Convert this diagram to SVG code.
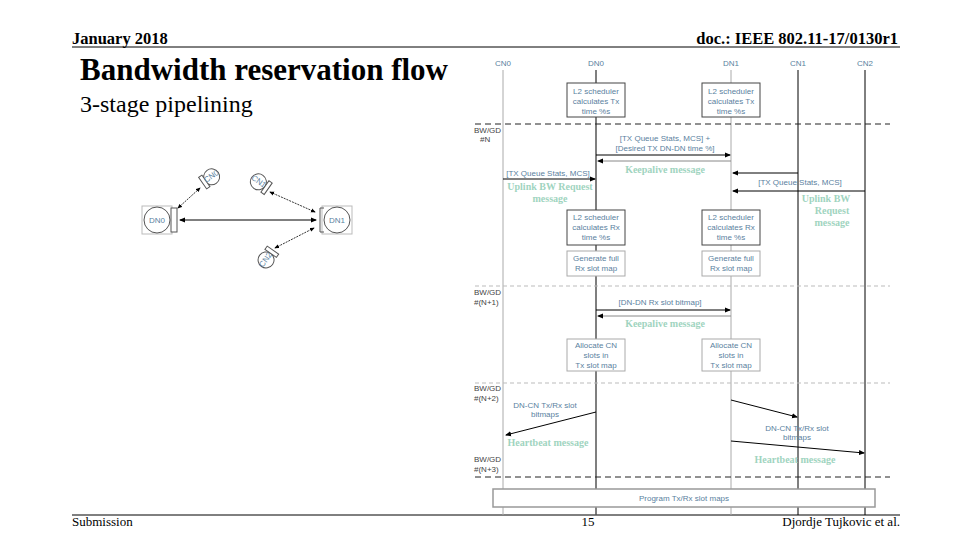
<svg xmlns="http://www.w3.org/2000/svg" width="960" height="540" viewBox="0 0 960 540">
<style>
.h{font-family:"Liberation Serif",serif;fill:#000}
.s{font-family:"Liberation Sans",sans-serif;font-size:8px;fill:#5a7fa0;text-anchor:middle}
.bw{font-family:"Liberation Sans",sans-serif;font-size:8px;fill:#444}
.g{font-family:"Liberation Serif",serif;font-size:10px;font-weight:bold;fill:#9fd4c0;text-anchor:middle}
.ll{stroke:#555;stroke-width:1.5}
.lt{stroke:#aaa;stroke-width:1}
.bx{fill:#fff;stroke:#444;stroke-width:1}
.bl{fill:#fff;stroke:#aaa;stroke-width:1}
.a{stroke:#000;stroke-width:1;fill:none;marker-end:url(#ah)}
.ag{stroke:#888;stroke-width:1;fill:none;marker-end:url(#ah)}
.d{stroke:#222;stroke-dasharray:6 4;stroke-width:1}
.dg{stroke:#bbb;stroke-dasharray:4 3;stroke-width:1}
.c{fill:#fff;stroke:#555}
</style>
<defs>
<marker id="ah" markerWidth="6" markerHeight="6" refX="5" refY="3" orient="auto"><path d="M0,0.5 L6,3 L0,5.5z" fill="#000"/></marker>
<marker id="as" markerWidth="6" markerHeight="6" refX="5" refY="3" orient="auto-start-reverse"><path d="M0,0.5 L6,3 L0,5.5z" fill="#000"/></marker>
</defs>
<rect width="960" height="540" fill="#fff"/>
<text class="h" x="72" y="44" font-size="16.5" font-weight="bold">January 2018</text>
<text class="h" x="898" y="44" font-size="16.5" font-weight="bold" text-anchor="end">doc.: IEEE 802.11-17/0130r1</text>
<line x1="72" y1="47" x2="900" y2="47" stroke="#000"/>
<text class="h" x="80" y="80" font-size="31" font-weight="bold">Bandwidth reservation flow</text>
<text class="h" x="80" y="112" font-size="24">3-stage pipelining</text>
<line x1="72" y1="515" x2="900" y2="515" stroke="#000"/>
<text class="h" x="72" y="526" font-size="13">Submission</text>
<text class="h" x="588" y="526" font-size="13" text-anchor="middle">15</text>
<text class="h" x="900" y="526" font-size="13" text-anchor="end">Djordje Tujkovic et al.</text>

<g id="network">
<g id="dn0"><rect x="142" y="206" width="30" height="28" fill="none" stroke="#bbb"/><circle class="c" cx="157" cy="220" r="13"/><rect x="171" y="208" width="6" height="24" class="c"/><text class="s" x="157" y="223" font-size="6">DN0</text></g>
<g id="dn1"><rect x="322" y="206" width="30" height="28" fill="none" stroke="#bbb"/><circle class="c" cx="337" cy="220" r="13"/><path d="M324,208 h-4 v24 h4" fill="none" stroke="#555"/><text class="s" x="337" y="223" font-size="6">DN1</text></g>
<g id="cn0" transform="rotate(-35 210 178)"><circle class="c" cx="212" cy="178" r="8"/><rect x="201" y="171" width="4" height="14" class="c"/><text class="s" x="212" y="180" font-size="5">CN0</text></g>
<g id="cn1" transform="rotate(35 260 183)"><circle class="c" cx="258" cy="183" r="8"/><rect x="266" y="176" width="4" height="14" class="c"/><text class="s" x="258" y="185" font-size="5">CN1</text></g>
<g id="cn2" transform="rotate(-55 265 258)"><circle class="c" cx="264" cy="260" r="8"/><rect x="272" y="253" width="4" height="14" class="c"/><text class="s" x="264" y="262" font-size="5">CN2</text></g>
<g id="net-links">
<line x1="180" y1="220" x2="316" y2="220" stroke="#000" marker-start="url(#as)" marker-end="url(#ah)"/>
<line x1="178" y1="208" x2="200" y2="188" stroke="#000" stroke-dasharray="2 1" marker-start="url(#as)" marker-end="url(#ah)" stroke-width="0.8"/>
<line x1="270" y1="192" x2="315" y2="212" stroke="#000" stroke-dasharray="2 1" marker-start="url(#as)" marker-end="url(#ah)" stroke-width="0.8"/>
<line x1="275" y1="248" x2="314" y2="228" stroke="#000" stroke-dasharray="2 1" marker-start="url(#as)" marker-end="url(#ah)" stroke-width="0.8"/>
</g>
</g>

<g id="lifelines">
<text class="s" x="503" y="66">CN0</text><text class="s" x="596" y="66">DN0</text><text class="s" x="731" y="66">DN1</text><text class="s" x="798" y="66">CN1</text><text class="s" x="865" y="66">CN2</text>
<line class="lt" x1="503" y1="70" x2="503" y2="515"/>
<line class="ll" x1="596" y1="70" x2="596" y2="515"/>
<line class="lt" x1="731" y1="70" x2="731" y2="515"/>
<line stroke="#000" x1="798" y1="70" x2="798" y2="515"/>
<line stroke="#000" x1="865" y1="70" x2="865" y2="515"/>
<line class="d" x1="475" y1="124" x2="890" y2="124"/>
<line class="dg" x1="475" y1="286" x2="890" y2="286"/>
<line class="dg" x1="475" y1="383" x2="890" y2="383"/>
<line class="d" x1="475" y1="477" x2="890" y2="477"/>
<text class="bw" x="474" y="133">BW/GD</text><text class="bw" x="480" y="142">#N</text>
<text class="bw" x="474" y="295">BW/GD</text><text class="bw" x="474" y="305">#(N+1)</text>
<text class="bw" x="474" y="391">BW/GD</text><text class="bw" x="474" y="401">#(N+2)</text>
<text class="bw" x="474" y="462">BW/GD</text><text class="bw" x="474" y="472">#(N+3)</text>
</g>

<g id="boxes">
<g id="b1"><rect class="bx" x="567" y="83" width="58" height="34"/><text class="s" x="596" y="94">L2 scheduler</text><text class="s" x="596" y="104">calculates Tx</text><text class="s" x="596" y="114">time %s</text></g>
<g id="b2"><rect class="bx" x="702" y="83" width="58" height="34"/><text class="s" x="731" y="94">L2 scheduler</text><text class="s" x="731" y="104">calculates Tx</text><text class="s" x="731" y="114">time %s</text></g>
<g id="b3"><rect class="bx" x="567" y="210" width="58" height="35"/><text class="s" x="596" y="220">L2 scheduler</text><text class="s" x="596" y="230">calculates Rx</text><text class="s" x="596" y="240">time %s</text></g>
<g id="b4"><rect class="bx" x="702" y="210" width="58" height="35"/><text class="s" x="731" y="220">L2 scheduler</text><text class="s" x="731" y="230">calculates Rx</text><text class="s" x="731" y="240">time %s</text></g>
<g id="b5"><rect class="bl" x="567" y="251" width="58" height="25"/><text class="s" x="596" y="261">Generate full</text><text class="s" x="596" y="271">Rx slot map</text></g>
<g id="b6"><rect class="bl" x="702" y="251" width="58" height="25"/><text class="s" x="731" y="261">Generate full</text><text class="s" x="731" y="271">Rx slot map</text></g>
<g id="b7"><rect class="bl" x="567" y="339" width="58" height="32"/><text class="s" x="596" y="348">Allocate CN</text><text class="s" x="596" y="358">slots in</text><text class="s" x="596" y="368">Tx slot map</text></g>
<g id="b8"><rect class="bl" x="702" y="339" width="58" height="32"/><text class="s" x="731" y="348">Allocate CN</text><text class="s" x="731" y="358">slots in</text><text class="s" x="731" y="368">Tx slot map</text></g>
<g id="b9"><rect x="493" y="489" width="382" height="18" fill="#fff" stroke="#999" stroke-width="1.5"/><text class="s" x="684" y="501">Program Tx/Rx slot maps</text></g>
</g>

<g id="connectors">
<line class="a" x1="596" y1="155" x2="730" y2="155"/>
<line class="ag" x1="731" y1="161" x2="598" y2="161"/>
<line class="a" x1="503" y1="179" x2="595" y2="179"/>
<line class="a" x1="798" y1="173" x2="733" y2="173"/>
<line class="a" x1="865" y1="191" x2="733" y2="191"/>
<line class="a" x1="596" y1="310" x2="730" y2="310"/>
<line class="ag" x1="731" y1="316" x2="598" y2="316"/>
<line class="a" x1="596" y1="412" x2="506" y2="435"/>
<line class="a" x1="731" y1="400" x2="797" y2="417"/>
<line class="a" x1="731" y1="441" x2="864" y2="453"/>
</g>

<g id="labels">
<text class="s" x="665" y="141">[TX Queue Stats, MCS] +</text>
<text class="s" x="665" y="151">[Desired TX DN-DN time %]</text>
<text class="g" x="665" y="173">Keepalive message</text>
<text class="s" x="548" y="176">[TX Queue Stats, MCS]</text>
<text class="g" x="550" y="190">Uplink BW Request</text>
<text class="g" x="550" y="202">message</text>
<text class="s" x="800" y="185">[TX Queue Stats, MCS]</text>
<text class="g" x="826" y="202">Uplink BW</text>
<text class="g" x="832" y="214">Request</text>
<text class="g" x="832" y="226">message</text>
<text class="s" x="660" y="305">[DN-DN Rx slot bitmap]</text>
<text class="g" x="665" y="327">Keepalive message</text>
<text class="s" x="545" y="408">DN-CN Tx/Rx slot</text>
<text class="s" x="545" y="417">bitmaps</text>
<text class="g" x="548" y="446">Heartbeat message</text>
<text class="s" x="797" y="431">DN-CN Tx/Rx slot</text>
<text class="s" x="797" y="440">bitmaps</text>
<text class="g" x="795" y="463">Heartbeat message</text>
</g>
</svg>
